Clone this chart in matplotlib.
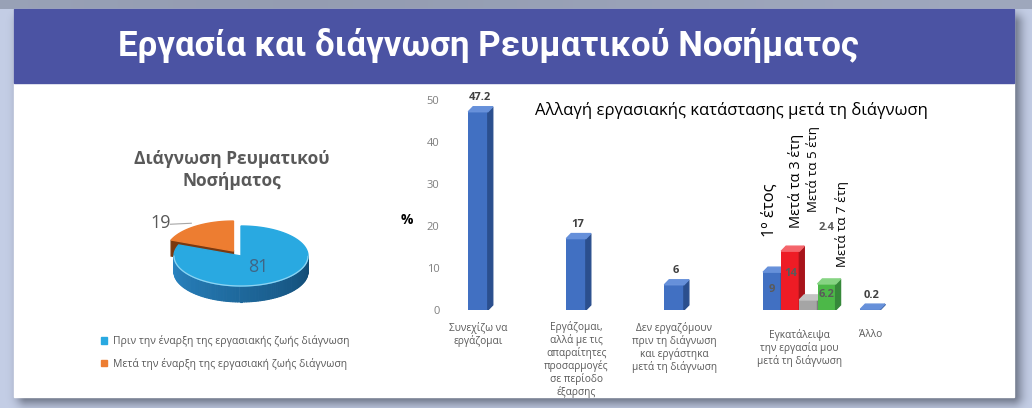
import numpy as np
import matplotlib.pyplot as plt
from matplotlib.patches import Rectangle, Polygon, Patch
from matplotlib.colors import to_rgb

plt.rcParams['font.family'] = ['Open Sans', 'DejaVu Sans']

# ---- data ----
page_title = 'Εργασία και διάγνωση Ρευματικού Νοσήματος'

pie_title = 'Διάγνωση Ρευματικού\nΝοσήματος'
pie_labels = ['Πριν την έναρξη της εργασιακής ζωής διάγνωση',
              'Μετά την έναρξη της εργασιακή ζωής διάγνωση']
pie_values = [81, 19]
pie_colors = ['#29a9e1', '#ed7d31']

bar_title = 'Αλλαγή εργασιακής κατάστασης μετά τη διάγνωση'
categories = ['Συνεχίζω να\nεργάζομαι',
              'Εργάζομαι,\nαλλά με τις\nαπαραίτητες\nπροσαρμογές\nσε περίοδο\nέξαρσης',
              'Δεν εργαζόμουν\nπριν τη διάγνωση\nκαι εργάστηκα\nμετά τη διάγνωση',
              'Εγκατάλειψα\nτην εργασία μου\nμετά τη διάγνωση',
              'Άλλο']
main_idx = [0, 1, 2, 4]
main_values = [47.2, 17, 6, 0.2]
quit_idx = 3
quit_series = ['1º έτος', 'Μετά τα 3 έτη', 'Μετά τα 5 έτη', 'Μετά τα 7 έτη']
quit_values = [9, 14, 2.4, 6.2]
yticks = [0, 10, 20, 30, 40, 50]

# colours for front / side / top faces of the 3d bars
blue3 = ('#4170c2', '#2b4f8e', '#6690da')
quit_colors = [blue3,
               ('#ee1c25', '#a8141b', '#f4646a'),
               ('#a5a5a5', '#7b7b7b', '#c4c4c4'),
               ('#4cb848', '#36893a', '#86d483')]

W, H = 1032, 408
fig = plt.figure(figsize=(W / 100, H / 100), dpi=100)

# ---- slide background (pixel coordinates) ----
bg = fig.add_axes([0, 0, 1, 1])
bg.set_xlim(0, W)
bg.set_ylim(H, 0)
bg.axis('off')

yy, xx = np.mgrid[0:H, 0:W]
base = np.array(to_rgb('#c4cee6'))
dark = np.array(to_rgb('#5a6172'))
px0, py0, px1, py1 = 14, 9, 1014, 397
# soft drop shadow to the right and below the white panel
ddx = np.clip(np.maximum(px0 + 12 - xx, xx - (px1 - 2)), 0, None)
ddy = np.clip(np.maximum(py0 + 14 - yy, yy - (py1 - 2)), 0, None)
dist = np.hypot(ddx, ddy)
shade = np.exp(-(dist / 10.0) ** 2) * 0.8
top = np.where(yy < py0, 0.35 + 0.1 * np.exp(-((xx - 300) / 400.0) ** 2), 0.0)
shade = np.clip(np.maximum(shade, top), 0, 1)[..., None]
img = base * (1 - shade) + dark * shade
bg.imshow(img, extent=(0, W, H, 0), aspect='auto', zorder=0)

bg.add_patch(Rectangle((px0, py0), px1 - px0, py1 - py0, color='white', zorder=1))
bg.add_patch(Rectangle((px0, py0), px1 - px0, 74, color='#4b53a3', zorder=2))

t = bg.text(488, 45, page_title, color='white', fontsize=22, fontweight='bold',
            family=['Roboto', 'DejaVu Sans'], ha='center', va='center', zorder=3)
fig.canvas.draw()
tw = t.get_window_extent().width
t.set_fontsize(22 * 740 / tw)

# ---- 3d pie ----
cx, cy, rx, ry, depth = 241, 256, 67, 30, 16
total = sum(pie_values)
angles = []
a = 90.0
for v in pie_values:
    span = 360.0 * v / total
    angles.append((a - span, a))
    a -= span
explode = [0.0, 0.2]


def ept(t_deg, ox, oy, r=1.0, dz=0.0):
    tr = np.radians(t_deg)
    return (cx + ox + r * rx * np.cos(tr), cy + oy - r * ry * np.sin(tr) + dz)


offsets = []
for (a0, a1), k in zip(angles, explode):
    mid = np.radians((a0 + a1) / 2)
    offsets.append((k * rx * np.cos(mid), -k * ry * np.sin(mid)))

side_light = np.array(to_rgb('#2a86c4'))
side_dark = np.array(to_rgb('#124a73'))

# radial wall of the exploded slice facing the viewer
(a0, a1), (ox, oy) = angles[1], offsets[1]
ctop = ept(0, ox, oy, r=0)
rtop = ept(a1 if np.cos(np.radians(a1)) < np.cos(np.radians(a0)) else a0, ox, oy)
bg.add_patch(Polygon([ctop, rtop, (rtop[0], rtop[1] + depth), (ctop[0], ctop[1] + depth)],
                     color='#7a3910', zorder=4))

# outer walls on the front half
for (a0, a1), (ox, oy), col in zip(angles, offsets, pie_colors):
    for k in (-1, 0, 1):
        lo, hi = max(a0, -180 + 360 * k), min(a1, 360 * k)
        if hi <= lo:
            continue
        steps = np.linspace(lo, hi, int((hi - lo) / 2) + 2)
        for s0, s1 in zip(steps[:-1], steps[1:]):
            frac = ((s0 - 360 * k) + 180) / 180
            if col == pie_colors[0]:
                c = side_light * (1 - frac) + side_dark * frac
            else:
                c = np.array(to_rgb('#a9531c'))
            p0, p1 = ept(s0, ox, oy), ept(s1, ox, oy)
            bg.add_patch(Polygon([p0, p1, (p1[0], p1[1] + depth), (p0[0], p0[1] + depth)],
                                 facecolor=c, edgecolor=c, lw=0.8, zorder=5))

# top faces
for (a0, a1), (ox, oy), col in zip(angles, offsets, pie_colors):
    arc = [ept(s, ox, oy) for s in np.linspace(a0, a1, 120)]
    bg.add_patch(Polygon([ept(0, ox, oy, r=0)] + arc, color=col, zorder=6))
    front = [s for s in np.linspace(a0, a1, 200) if np.sin(np.radians(s)) < 0]
    if front:
        fx, fy = zip(*[ept(s, ox, oy) for s in front])
        bg.plot(fx, fy, color='#8fd3f2', lw=0.9, zorder=7)

# value labels
mid0 = (angles[0][0] + angles[0][1]) / 2
lx, ly = ept(mid0, *offsets[0], r=0.45)
bg.text(lx, ly, f'{pie_values[0]}', color='#3f6585', fontsize=13, ha='center', va='center', zorder=8)
mid1 = (angles[1][0] + angles[1][1]) / 2
ax_, ay_ = ept(mid1, 0, 0, r=1.32)
bg.plot([ax_ - 21, ax_], [ay_ + 1, ay_], color='#a6a6a6', lw=0.8, zorder=8)
bg.text(ax_ - 20, ay_, f'{pie_values[1]}', color='#595959', fontsize=13, ha='right', va='center', zorder=8)

bg.text(232, 170, pie_title, color='#595959', fontsize=12.5, fontweight='bold',
        ha='center', va='center', linespacing=1.25, zorder=8)

leg = bg.legend(handles=[Patch(color=c) for c in pie_colors], labels=pie_labels,
                loc='upper left', bbox_to_anchor=(96, 330), bbox_transform=bg.transData,
                frameon=False, fontsize=7.5, labelcolor='#595959', handlelength=0.55,
                handleheight=0.55, handletextpad=0.6, labelspacing=1.0, borderpad=0)
leg.set_zorder(8)

# ---- 3d bar chart ----
ax = fig.add_axes([445 / W, (H - 310) / H, 485 / W, 210 / H])
ax.patch.set_alpha(0)
ax.set_xlim(-0.337, 4.61)
ax.set_ylim(0, 50)
for sp in ax.spines.values():
    sp.set_visible(False)
ax.set_yticks(yticks)
ax.tick_params(axis='y', length=0, labelsize=8, labelcolor='#7f7f7f', pad=4)
ax.set_xticks([])

w_main, w_sub = 0.2, 0.185
dx, dy = 0.05, 1.2


def bar3d(x, h, w, cols):
    front, side, top = cols
    x0, x1 = x - w / 2, x + w / 2
    ax.bar(x, h, w, color=front, zorder=2)
    ax.add_patch(Polygon([(x1, 0), (x1 + dx, dy), (x1 + dx, h + dy), (x1, h)], color=side, zorder=2))
    ax.add_patch(Polygon([(x0, h), (x1, h), (x1 + dx, h + dy), (x0 + dx, h + dy)], color=top, zorder=2))


for i, v in zip(main_idx, main_values):
    bar3d(i, v, w_main, blue3)
    ax.annotate(f'{v:g}', (i, v), xytext=(1, 6), textcoords='offset points',
                ha='center', va='bottom', fontsize=8, fontweight='bold', color='#404040')

sub_x = [quit_idx + j * w_sub for j in range(len(quit_values))]
for x, v, cols in zip(sub_x, quit_values, quit_colors):
    bar3d(x, v, w_sub, cols)

inner = [(0, 0.55), (1, 0.62), (3, 0.6)]
for j, f in inner:
    ax.text(sub_x[j], quit_values[j] * f, f'{quit_values[j]:g}', ha='center', va='center',
            fontsize=8, fontweight='bold', color='#5a5a5a', zorder=3)
ax.annotate(f'{quit_values[2]:g}', (sub_x[2], quit_values[2]), xytext=(13, 52),
            textcoords='offset points', ha='center', va='center', fontsize=8,
            fontweight='bold', color='#595959')

series_pos = [(-2, 25, 12), (4, 17, 10.5), (3, 63, 9.5), (11, 12, 9.5)]
for x, v, name, (ox, oy, fs) in zip(sub_x, quit_values, quit_series, series_pos):
    ax.annotate(name, (x, v), xytext=(ox, oy), textcoords='offset points', rotation=90,
                ha='center', va='bottom', fontsize=fs, color='black')

cat_x = [0, 1, 2, float(np.mean(sub_x)), 4]
cat_pad = [9, 8, 9, 14, 14]
for x, lab, pd in zip(cat_x, categories, cat_pad):
    ax.annotate(lab, (x, 0), xytext=(0, -pd), textcoords='offset points', ha='center',
                va='top', fontsize=7.3, color='#595959', linespacing=1.1, annotation_clip=False)

ax.set_ylabel('%', rotation=0, fontsize=10, fontweight='bold', color='black')
ax.yaxis.set_label_coords(-0.078, 0.395)
ax.text(0.59, 0.948, bar_title, transform=ax.transAxes, ha='center', va='center',
        fontsize=12, color='black')

fig.savefig('out.png', dpi=100)
